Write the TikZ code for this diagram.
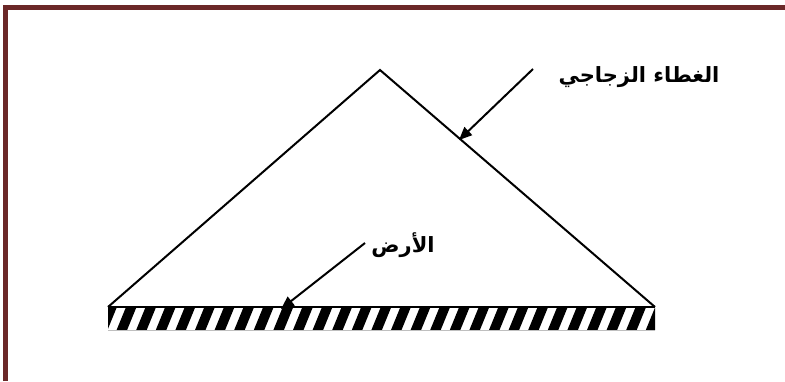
\documentclass[tikz,border=0pt]{standalone}
\usepackage{fontspec}
\newfontfamily\arabicfont[Script=Arabic]{DejaVu Sans}
\TeXXeTstate=1
\usetikzlibrary{arrows.meta}
\definecolor{framecol}{HTML}{6B2828}
\begin{document}
\begin{tikzpicture}[x=1pt,y=-1pt,
  frame/.style={draw=framecol,line width=4.2pt},
  edge/.style={draw=black,line width=2pt,line join=miter},
  pointer/.style={draw=black,line width=2pt,-{Triangle[length=13pt,width=11pt]}},
  lbl/.style={inner sep=0pt,font=\arabicfont\bfseries\fontsize{21}{21}\selectfont}]
\useasboundingbox (0,0) rectangle (785,381);
\draw[frame] (5.5,381) -- (5.5,7.5) -- (785,7.5);
\coordinate (A) at (380,70);
\coordinate (L) at (108,307);
\coordinate (R) at (655,307);
\draw[edge] (L) -- (A) -- (R);
\draw[edge] (L) -- (R);
\begin{scope}
  \clip (108,308.5) rectangle (655,330);
  \foreach \i in {0,...,28}
    \fill[black] (106+\i*19.6,308) -- ++(10.5,0) -- ++(-9,22) -- ++(-10.5,0) -- cycle;
\end{scope}
\draw[gray!50,line width=0.8pt] (108,330.5) -- (655,330.5);
\node[lbl] (glass) at (639,77) {\beginR الغطاء الزجاجي\endR};
\node[lbl] (ground) at (403,245) {\beginR الأرض\endR};
\coordinate (gs) at (533,69);
\coordinate (gt) at (459,140);
\coordinate (rs) at (365,243);
\coordinate (rt) at (281,309);
\draw[pointer] (gs) -- (gt);
\draw[pointer] (rs) -- (rt);
\end{tikzpicture}
\end{document}
